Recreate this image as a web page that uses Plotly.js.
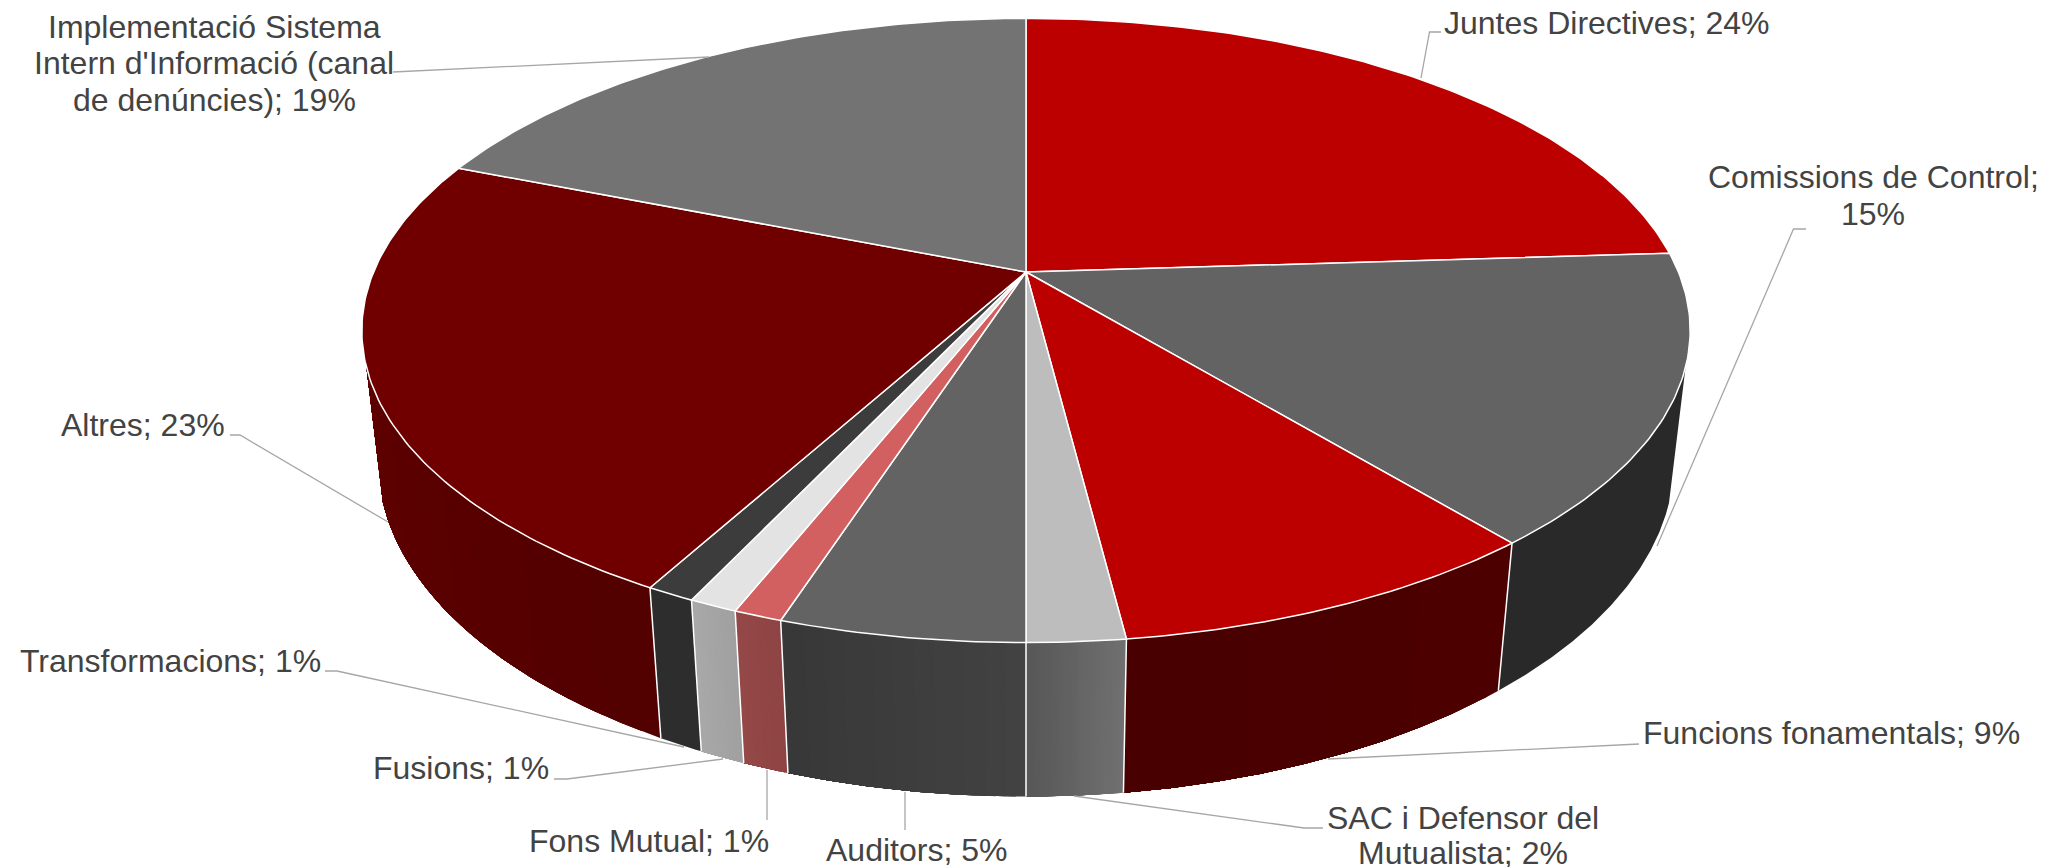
<!DOCTYPE html>
<html><head><meta charset="utf-8">
<script src="https://cdn.plot.ly/plotly-3.0.1.min.js"></script>
<style>html,body{margin:0;padding:0;background:#fff}</style></head>
<body><div id="chart" style="width:2060px;height:867px"></div>
<script>
// Data
const categories = ["Juntes Directives","Comissions de Control","Funcions fonamentals","SAC i Defensor del Mutualista","Auditors","Fons Mutual","Fusions","Transformacions","Altres","Implementació Sistema Intern d'Informació (canal de denúncies)"];
const shares = [24,15,9,2,5,1,1,1,23,19];
const topColors = ["#BC0000","#636363","#BC0000","#BDBDBD","#636363","#D26060","#E3E3E3","#3C3C3C","#700000","#737373"];
const wallStart = [[90,0,0],[41,41,41],[77,0,0],[112,112,112],[66,66,66],[142,68,68],[160,160,160],[45,45,45],[82,0,0],[80,80,80]];
const wallEnd   = [[90,0,0],[41,41,41],[72,0,0],[88,88,88],[56,56,56],[148,72,72],[168,168,168],[45,45,45],[94,0,0],[80,80,80]];
// Label text, one entry per line, and where each block sits
const labelLines = [["Juntes Directives; 24%"],["Comissions de Control;","15%"],["Funcions fonamentals; 9%"],["SAC i Defensor del","Mutualista; 2%"],["Auditors; 5%"],["Fons Mutual; 1%"],["Fusions; 1%"],["Transformacions; 1%"],["Altres; 23%"],["Implementació Sistema","Intern d'Informació (canal","de denúncies); 19%"]];
const labelX = [1606,1873,1831,1463,916,649,461,170,143,214];
const labelY = [[23],[177,214],[733],[818,853],[850],[841],[768],[661],[425],[27,63,100]];
const leaderX = [[1421,1429.5,1441],[1657,1793.5,1806],[1328,1639],[1074,1304,1323],[905,905],[767,767],[723,567,554],[684,337,325],[388,240,230],[709,393]];
const leaderY = [[78,32,32],[546,229,229],[759,744],[796,828,828],[792,830],[770,820],[759,779,779],[747,671,671],[522,435,435],[57,72]];

// Projection of the tilted disc
const cx=1026, cy=272, R=652.4, S=301.1, p=0.1874, vpX=1026, vpY=5780, t0=0.02997, d0=0.8126, tExp=1.2, wallLimit=-0.297;
const topPt = a => { const u=Math.sin(a), v=Math.cos(a), d=1+p*v; return [cx+R*u/d, cy-S*v/d]; };
const botPt = a => { const q=topPt(a), t=t0*Math.pow(d0/(1+p*Math.cos(a)),tExp); return [q[0]+(vpX-q[0])*t, q[1]+(vpY-q[1])*t]; };
const onBack = a => Math.cos(a)>wallLimit;
const total=shares.reduce((s,x)=>s+x,0);
const traces=[];
let cum=0;
const edges=shares.map(s=>{const a0=cum/total*2*Math.PI; cum+=s; return [a0,cum/total*2*Math.PI];});
const seps=[];
const wallPolygon=(angles)=>{
  const xs=[],ys=[];
  angles.forEach(a=>{const q=topPt(a); xs.push(q[0]); ys.push(q[1]);});
  angles.slice().reverse().forEach(a=>{const q=botPt(a); xs.push(q[0]); ys.push(q[1]);});
  xs.push(xs[0]); ys.push(ys[0]);
  return [xs,ys];
};
edges.forEach((e,i)=>{
  const n=Math.max(2,Math.ceil((e[1]-e[0])/(Math.PI/180*0.25)));
  const angles=[];
  for(let k=0;k<=n;k++){const a=e[0]+(e[1]-e[0])*k/n; if(!onBack(a)) angles.push(a);}
  if(angles.length<2) return;
  const same=wallStart[i].join()===wallEnd[i].join();
  const steps=same?1:24;
  for(let s=0;s<steps;s++){
    const from=Math.floor(s/steps*(angles.length-1));
    const f=steps===1?0:s/(steps-1);
    const c=wallStart[i].map((v,j)=>Math.round(v+(wallEnd[i][j]-v)*f));
    const col=`rgb(${c.join(',')})`;
    const P=wallPolygon(angles.slice(from));
    traces.push({type:'scatter',mode:'lines',x:P[0],y:P[1],fill:'toself',fillcolor:col,line:{color:col,width:0},hoverinfo:'skip',showlegend:false});
  }
  if(angles[0]===e[0]) seps.push(e[0]);
});
seps.forEach(a=>{
  const A=topPt(a),D=botPt(a);
  traces.push({type:'scatter',mode:'lines',x:[A[0],D[0]],y:[A[1],D[1]],line:{color:'#fff',width:1.5},hoverinfo:'skip',showlegend:false});
});
edges.forEach((e,i)=>{
  const n=Math.ceil((e[1]-e[0])/(Math.PI/180*0.75));
  const xs=[cx],ys=[cy];
  for(let k=0;k<=n;k++){const q=topPt(e[0]+(e[1]-e[0])*k/n); xs.push(q[0]); ys.push(q[1]);}
  xs.push(cx); ys.push(cy);
  traces.push({type:'scatter',mode:'lines',name:categories[i],x:xs,y:ys,fill:'toself',fillcolor:topColors[i],line:{color:'#fff',width:1.5},text:categories[i]+': '+shares[i]+'%',hoverinfo:'text',showlegend:false});
});
leaderX.forEach((lx,i)=>{
  traces.push({type:'scatter',mode:'lines',x:lx,y:leaderY[i],line:{color:'#A6A6A6',width:1.3},hoverinfo:'skip',showlegend:false});
});
const annotations=[];
labelLines.forEach((lines,i)=>lines.forEach((txt,j)=>{
  annotations.push({x:labelX[i],y:labelY[i][j],xref:'x',yref:'y',text:txt,showarrow:false,xanchor:'center',yanchor:'middle',font:{family:'"Liberation Sans",Arial,sans-serif',size:32,color:'#434343'}});
}));
const layout={width:2060,height:867,margin:{l:0,r:0,t:0,b:0},paper_bgcolor:'#fff',plot_bgcolor:'#fff',showlegend:false,
  xaxis:{range:[0,2060],visible:false,fixedrange:true},yaxis:{range:[867,0],visible:false,fixedrange:true},annotations};
Plotly.newPlot('chart',traces,layout,{displayModeBar:false});
</script></body></html>
